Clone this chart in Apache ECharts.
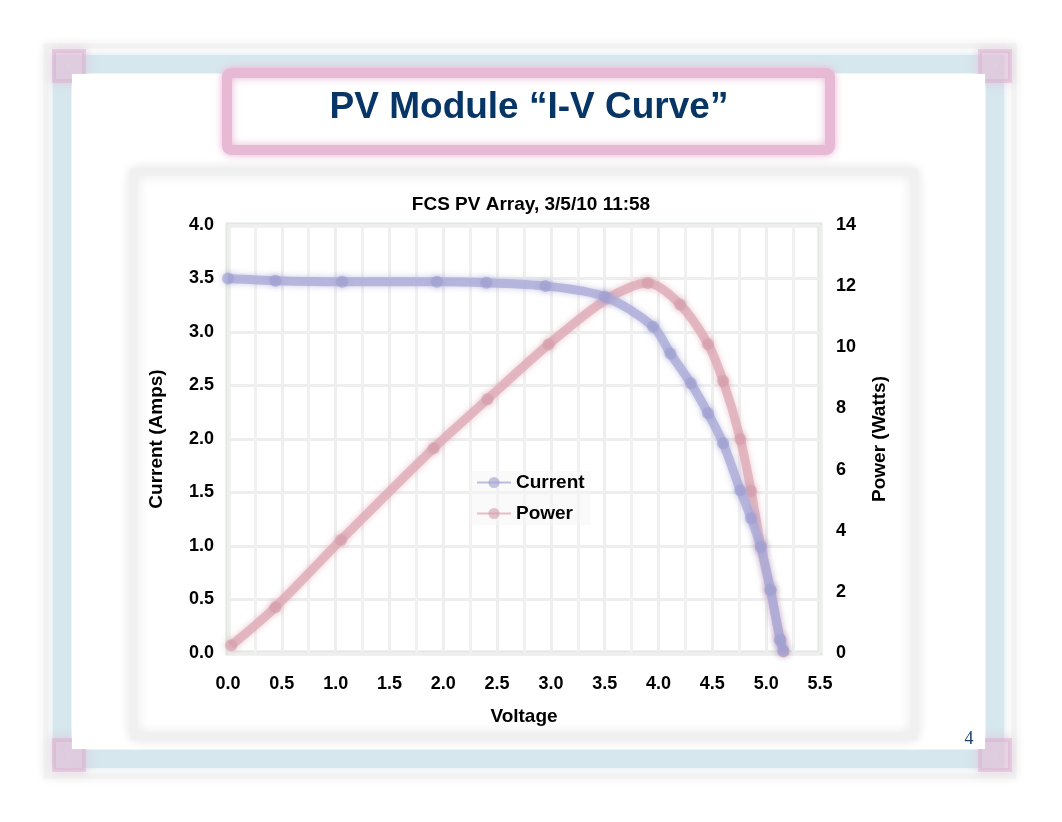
<!DOCTYPE html>
<html>
<head>
<meta charset="utf-8">
<script src="https://cdn.jsdelivr.net/npm/echarts@6/dist/echarts.min.js"></script>
<style>
html,body{margin:0;padding:0;background:#fff;}
#chart{width:1062px;height:822px;}
</style>
</head>
<body>
<div id="chart"></div>
<script>
// ---- data ----
const slideTitle = 'PV Module \u201CI-V Curve\u201D';
const chartTitle = 'FCS PV Array, 3/5/10 11:58';
const pageNumber = '4';
const seriesNames = ['Current', 'Power'];
const axisNames = ['Voltage', 'Current (Amps)', 'Power (Watts)'];

// [Voltage, Current]
const currentData = [
  [0.00, 3.50], [0.44, 3.48], [1.06, 3.47], [1.94, 3.47], [2.40, 3.46],
  [2.95, 3.43], [3.50, 3.33], [3.95, 3.05], [4.11, 2.80], [4.30, 2.52],
  [4.46, 2.24], [4.60, 1.96], [4.76, 1.52], [4.86, 1.26], [4.95, 0.99],
  [5.04, 0.59], [5.13, 0.12], [5.16, 0.02]
];
// [Voltage, Power]
const powerData = [
  [0.03, 0.25], [0.44, 1.50], [1.05, 3.70], [1.91, 6.70], [2.41, 8.30],
  [2.98, 10.10], [3.53, 11.60], [3.90, 12.10], [4.20, 11.40], [4.46, 10.10],
  [4.60, 8.90], [4.76, 7.00], [4.86, 5.30], [4.95, 3.50], [5.04, 2.05],
  [5.13, 0.45], [5.16, 0.05]
];

const chart = echarts.init(document.getElementById('chart'));
const FONT = '"Liberation Sans", Arial, sans-serif';
const blue = 'rgba(172,172,216,0.78)';
const red = 'rgba(222,170,182,0.75)';

chart.setOption({
  animation: false,
  backgroundColor: '#ffffff',
  graphic: [
    // outer faint frame
    { type: 'rect', z: -20, shape: { x: 46, y: 46, width: 968, height: 730 },
      style: { fill: 'none', stroke: '#f2f2f2', lineWidth: 5, shadowBlur: 8, shadowColor: '#ececec' } },
    // light blue border band
    { type: 'rect', z: -19, shape: { x: 62, y: 64, width: 933, height: 695 },
      style: { fill: 'none', stroke: '#d7e7ee', lineWidth: 18, shadowBlur: 6, shadowColor: '#d7e7ee' } },
    // pink corner ornaments
    { type: 'rect', z: -18, shape: { x: 54, y: 51, width: 30, height: 30 },
      style: { fill: 'rgba(228,198,220,0.45)', stroke: 'rgba(215,175,208,0.5)', lineWidth: 4, shadowBlur: 10, shadowColor: '#e0bcd6' } },
    { type: 'rect', z: -18, shape: { x: 980, y: 51, width: 30, height: 30 },
      style: { fill: 'rgba(228,198,220,0.45)', stroke: 'rgba(215,175,208,0.5)', lineWidth: 4, shadowBlur: 10, shadowColor: '#e0bcd6' } },
    { type: 'rect', z: -18, shape: { x: 54, y: 740, width: 30, height: 30 },
      style: { fill: 'rgba(228,198,220,0.45)', stroke: 'rgba(215,175,208,0.5)', lineWidth: 4, shadowBlur: 10, shadowColor: '#e0bcd6' } },
    { type: 'rect', z: -18, shape: { x: 980, y: 740, width: 30, height: 30 },
      style: { fill: 'rgba(228,198,220,0.45)', stroke: 'rgba(215,175,208,0.5)', lineWidth: 4, shadowBlur: 10, shadowColor: '#e0bcd6' } },
    // white slide area inside band
    { type: 'rect', z: -17, shape: { x: 72, y: 74, width: 913, height: 675 },
      style: { fill: '#ffffff' } },
    // title box
    { type: 'rect', z: -16, shape: { x: 227, y: 73, width: 603, height: 77, r: 4 },
      style: { fill: '#ffffff', stroke: '#e8b9d5', lineWidth: 10, shadowBlur: 8, shadowColor: '#e8b9d5' } },
    { type: 'text', z: 10, x: 529, y: 108,
      style: { text: slideTitle, fill: '#063566', font: 'bold 37px ' + FONT, textAlign: 'center', textVerticalAlign: 'middle' } },
    // chart box
    { type: 'rect', z: -15, shape: { x: 134, y: 172, width: 780, height: 564 },
      style: { fill: '#ffffff', stroke: '#f0f0f0', lineWidth: 7, shadowBlur: 12, shadowColor: '#e4e4e4' } },
    // page number
    { type: 'text', z: 10, x: 969, y: 739,
      style: { text: pageNumber, fill: '#1c3d6e', font: '18px "Liberation Serif", "DejaVu Serif", serif', textAlign: 'center', textVerticalAlign: 'middle' } }
  ],
  title: {
    text: chartTitle, left: 526, top: 190, textAlign: 'center',
    textStyle: { fontFamily: FONT, fontSize: 19, fontWeight: 'bold', color: '#000' }
  },
  legend: {
    orient: 'vertical', left: 470, top: 471, itemGap: 12,
    itemWidth: 34, itemHeight: 14,
    backgroundColor: 'rgba(246,246,246,0.5)', padding: [2, 6, 2, 6],
    textStyle: { fontFamily: FONT, fontSize: 19, fontWeight: 'bold', color: '#000' },
    data: seriesNames
  },
  grid: {
    left: 228, right: 242, top: 225, bottom: 169,
    show: true, borderColor: '#e0e8e0', borderWidth: 5, backgroundColor: 'transparent'
  },
  xAxis: {
    type: 'value', min: 0, max: 5.5, interval: 0.5,
    name: axisNames[0], nameLocation: 'middle', nameGap: 54,
    nameTextStyle: { fontFamily: FONT, fontSize: 19, fontWeight: 'bold', color: '#000' },
    axisLine: { show: false }, axisTick: { show: false },
    axisLabel: { fontFamily: FONT, fontSize: 18, fontWeight: 'bold', color: '#000', margin: 22,
      formatter: v => v.toFixed(1) },
    splitLine: { show: true, lineStyle: { color: '#eeeeee', width: 3 } },
    minorTick: { show: false, splitNumber: 2 },
    minorSplitLine: { show: true, lineStyle: { color: '#f1f1f1', width: 3 } }
  },
  yAxis: [
    {
      type: 'value', min: 0, max: 4, interval: 0.5, position: 'left',
      name: axisNames[1], nameLocation: 'middle', nameGap: 62,
      nameTextStyle: { fontFamily: FONT, fontSize: 19, fontWeight: 'bold', color: '#000' },
      axisLine: { show: false }, axisTick: { show: false },
      axisLabel: { fontFamily: FONT, fontSize: 18, fontWeight: 'bold', color: '#000', margin: 14,
        formatter: v => v.toFixed(1) },
      splitLine: { show: true, lineStyle: { color: '#eeeeee', width: 3 } }
    },
    {
      type: 'value', min: 0, max: 14, interval: 2, position: 'right',
      name: axisNames[2], nameLocation: 'middle', nameGap: 50,
      nameTextStyle: { fontFamily: FONT, fontSize: 19, fontWeight: 'bold', color: '#000' },
      axisLine: { show: false }, axisTick: { show: false },
      axisLabel: { fontFamily: FONT, fontSize: 18, fontWeight: 'bold', color: '#000', margin: 16 },
      splitLine: { show: false }
    }
  ],
  series: [
    {
      name: seriesNames[0], type: 'line', yAxisIndex: 0, data: currentData,
      smooth: 0.3, symbol: 'circle', symbolSize: 12, showSymbol: true,
      lineStyle: { color: blue, width: 9, shadowBlur: 6, shadowColor: 'rgba(172,172,216,0.8)' },
      itemStyle: { color: 'rgba(158,158,208,0.6)', shadowBlur: 6, shadowColor: 'rgba(158,158,208,0.8)' },
      z: 3
    },
    {
      name: seriesNames[1], type: 'line', yAxisIndex: 1, data: powerData,
      smooth: 0.3, symbol: 'circle', symbolSize: 12, showSymbol: true,
      lineStyle: { color: red, width: 9, shadowBlur: 6, shadowColor: 'rgba(222,170,182,0.8)' },
      itemStyle: { color: 'rgba(212,156,170,0.6)', shadowBlur: 6, shadowColor: 'rgba(212,156,170,0.8)' },
      z: 2
    }
  ]
});
</script>
</body>
</html>
